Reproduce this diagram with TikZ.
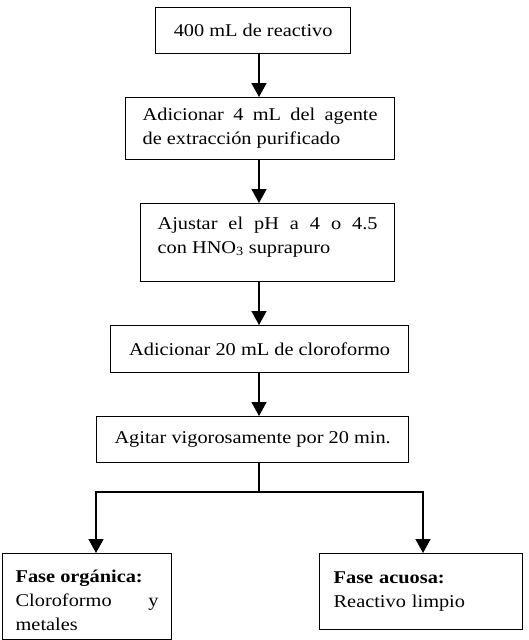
\documentclass[tikz,border=0pt]{standalone}
\usepackage{fontspec}
\setmainfont[FakeStretch=1.13]{Liberation Serif}
\usetikzlibrary{arrows.meta,positioning,calc}

\begin{document}
\begin{tikzpicture}[
    x=1pt, y=-1pt,
    stepbox/.style={draw, rectangle, line width=1.3pt, anchor=north west, inner xsep=17pt, inner ysep=0pt, font=\fontsize{18}{24}\selectfont},
    arr/.style={line width=1.3pt, -{Triangle[width=15pt,length=14pt]}}
]
    \useasboundingbox (0,0) rectangle (529,640);
    \coordinate (spine) at (259,0);

    \node[stepbox, minimum width=195pt, minimum height=46pt] (reactivo) at (155,7) {400 mL de reactivo};
    \node[stepbox, text width=235pt, align=justify, minimum height=62pt] (agente) at (125,97)
        {Adicionar 4 mL del agente\linebreak de extracción purificado};
    \node[stepbox, text width=220pt, align=justify, minimum height=78pt] (ph) at (140,203)
        {Ajustar el pH a 4 o 4.5\linebreak con HNO\textsubscript{3} suprapuro\rule[-15pt]{0pt}{15pt}};
    \node[stepbox, minimum width=298pt, minimum height=47pt] (cloroformo) at (110,325) {Adicionar 20 mL de cloroformo};
    \node[stepbox, minimum width=312pt, minimum height=46pt] (agitar) at (96,416) {Agitar vigorosamente por 20 min.};

    \node[stepbox, inner xsep=13pt, text width=143pt, align=justify, minimum height=86pt] (organica) at (2,553)
        {\rule{0pt}{20pt}\textbf{Fase orgánica:}\\ Cloroformo y\linebreak metales};
    \node[stepbox, inner xsep=14pt, text width=175pt, align=left, minimum height=76pt] (acuosa) at (319,553)
        {\textbf{Fase acuosa:}\\ Reactivo limpio};

    \draw[arr] (reactivo.south -| spine) -- (agente.north -| spine);
    \draw[arr] (agente.south -| spine) -- (ph.north -| spine);
    \draw[arr] (ph.south -| spine) -- (cloroformo.north -| spine);
    \draw[arr] (cloroformo.south -| spine) -- (agitar.north -| spine);

    % split into the two phases
    \coordinate (split) at (259,492);
    \coordinate (splitl) at (96,492);
    \coordinate (splitr) at (423,492);
    \draw[line width=1.3pt] (agitar.south -| spine) -- (split);
    \draw[arr] (split) -- (splitl) -- (splitl |- organica.north);
    \draw[arr] (split) -- (splitr) -- (splitr |- acuosa.north);
\end{tikzpicture}
\end{document}
